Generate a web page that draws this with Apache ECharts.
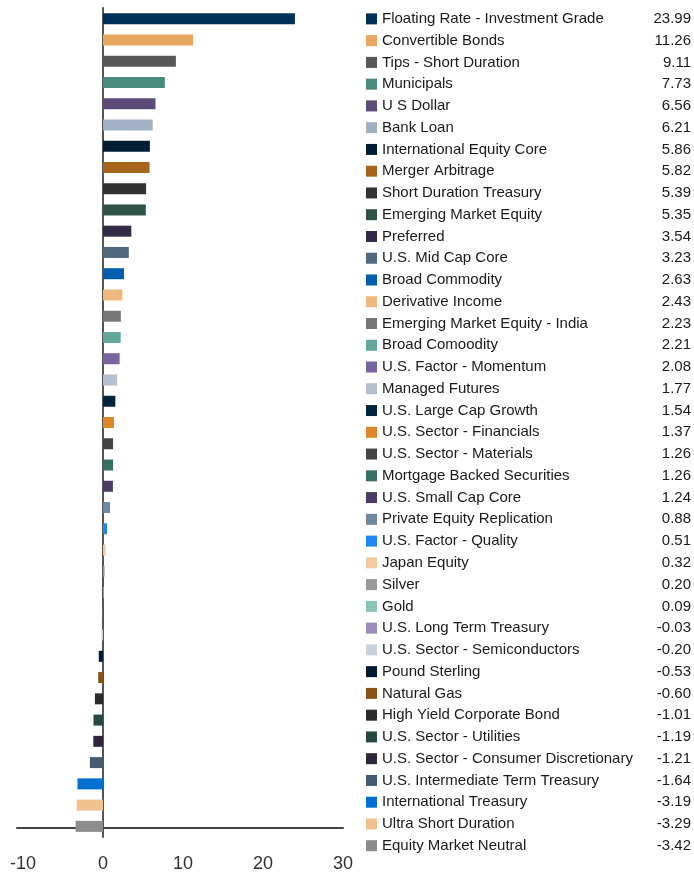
<!DOCTYPE html>
<html>
<head>
<meta charset="utf-8">
<script src="https://cdn.jsdelivr.net/npm/echarts@6/dist/echarts.min.js"></script>
<style>
  html, body { margin: 0; padding: 0; background: #fff; }
  #chart { width: 694px; height: 873px; }
</style>
</head>
<body>
<div id="chart"></div>
<script>
const categories = [
  'Floating Rate - Investment Grade', 'Convertible Bonds', 'Tips - Short Duration', 'Municipals',
  'U S Dollar', 'Bank Loan', 'International Equity Core', 'Merger Arbitrage',
  'Short Duration Treasury', 'Emerging Market Equity', 'Preferred', 'U.S. Mid Cap Core',
  'Broad Commodity', 'Derivative Income', 'Emerging Market Equity - India', 'Broad Comoodity',
  'U.S. Factor - Momentum', 'Managed Futures', 'U.S. Large Cap Growth', 'U.S. Sector - Financials',
  'U.S. Sector - Materials', 'Mortgage Backed Securities', 'U.S. Small Cap Core', 'Private Equity Replication',
  'U.S. Factor - Quality', 'Japan Equity', 'Silver', 'Gold',
  'U.S. Long Term Treasury', 'U.S. Sector - Semiconductors', 'Pound Sterling', 'Natural Gas',
  'High Yield Corporate Bond', 'U.S. Sector - Utilities', 'U.S. Sector - Consumer Discretionary',
  'U.S. Intermediate Term Treasury', 'International Treasury', 'Ultra Short Duration', 'Equity Market Neutral'
];
const values = [
  23.99, 11.26, 9.11, 7.73, 6.56, 6.21, 5.86, 5.82, 5.39, 5.35,
  3.54, 3.23, 2.63, 2.43, 2.23, 2.21, 2.08, 1.77, 1.54, 1.37,
  1.26, 1.26, 1.24, 0.88, 0.51, 0.32, 0.20, 0.09, -0.03, -0.20,
  -0.53, -0.60, -1.01, -1.19, -1.21, -1.64, -3.19, -3.29, -3.42
];
const xTicks = [-10, 0, 10, 20, 30];

const palette = [
  '#003057', '#e8a860', '#575757', '#4b8a7e', '#5c4b79', '#a0afc2', '#001d33', '#a6651a',
  '#333333', '#2f5447', '#332a48', '#53697f', '#005eb0', '#edb97e', '#777777', '#62a89a',
  '#7a64a0', '#b4c0cd', '#00263f', '#e0862a', '#444444', '#3a6f63', '#493b63', '#6f87a0',
  '#1e88f0', '#f2c9a0', '#999999', '#8dc4b8', '#9d8bba', '#c8d1db', '#001a30', '#8a5215',
  '#2b2b2b', '#264a3e', '#2e243e', '#455a6e', '#0070d0', '#f0c290', '#8c8c8c'
];

const rich = { n: { fontSize: 15, color: '#1a1a1a', padding: [0, 0, 0, 5], fontFamily: 'Liberation Sans' } };
palette.forEach((c, i) => {
  rich['s' + i] = { width: 11, height: 11, backgroundColor: c };
});

const chart = echarts.init(document.getElementById('chart'));
chart.setOption({
  animation: false,
  textStyle: { fontFamily: 'Liberation Sans' },
  grid: [
    { left: 17, right: 351, top: 8, height: 829 },
    { left: 366, right: 3, top: 8, height: 848.6 }
  ],
  xAxis: [
    {
      gridIndex: 0,
      type: 'value',
      min: -10.75,
      max: 30,
      offset: -9,
      splitLine: { show: false },
      axisLine: { show: true, lineStyle: { color: '#444', width: 2 } },
      axisTick: { show: false },
      axisLabel: {
        customValues: xTicks,
        fontSize: 18,
        color: '#333',
        margin: 27,
        formatter: v => String(v)
      }
    },
    { gridIndex: 1, type: 'value', show: false }
  ],
  yAxis: [
    {
      gridIndex: 0,
      type: 'category',
      inverse: true,
      data: categories,
      axisLine: { show: true, onZero: true, lineStyle: { color: '#555', width: 2 } },
      axisTick: { show: false },
      axisLabel: { show: false }
    },
    {
      gridIndex: 1,
      type: 'category',
      inverse: true,
      position: 'left',
      data: categories,
      axisLine: { show: false },
      axisTick: { show: false },
      axisLabel: {
        inside: true,
        margin: 0,
        align: 'left',
        formatter: (v, i) => '{s' + i + '|}{n|' + v + '}',
        rich: rich
      }
    },
    {
      gridIndex: 1,
      type: 'category',
      inverse: true,
      position: 'right',
      data: values.map(v => v.toFixed(2)),
      axisLine: { show: false },
      axisTick: { show: false },
      axisLabel: {
        inside: true,
        margin: 0,
        align: 'right',
        fontSize: 15,
        color: '#1a1a1a'
      }
    }
  ],
  series: [
    {
      type: 'bar',
      xAxisIndex: 0,
      yAxisIndex: 0,
      barWidth: 11,
      data: values.map((v, i) => ({ value: v, itemStyle: { color: palette[i] } }))
    }
  ]
});
</script>
</body>
</html>
